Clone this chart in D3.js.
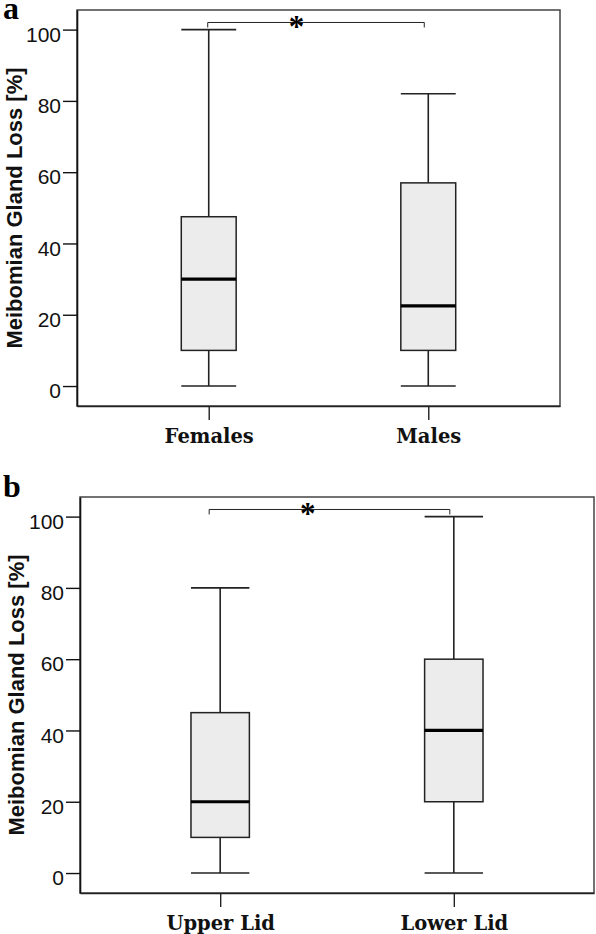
<!DOCTYPE html>
<html>
<head>
<meta charset="utf-8">
<script src="https://cdn.jsdelivr.net/npm/d3@7"></script>
<style>
  html, body { margin: 0; padding: 0; background: #fff; }
  svg { display: block; }
</style>
</head>
<body>
<svg id="chart" width="596" height="934"></svg>
<script>
// ---------- data ----------
const panelLabels = ["a", "b"];
const yTicks = [0, 20, 40, 60, 80, 100];
const yTitle = "Meibomian Gland Loss [%]";

const categoriesA = ["Females", "Males"];
const minA = [0, 0];
const q1A = [10, 10];
const medianA = [30, 22.5];
const q3A = [47.5, 57];
const maxA = [100, 82];

const categoriesB = ["Upper Lid", "Lower Lid"];
const minB = [0, 0];
const q1B = [10, 20];
const medianB = [20, 40];
const q3B = [45, 60];
const maxB = [80, 100];

const significance = ["*", "*"];

// ---------- layout ----------
const panels = [
  { label: panelLabels[0], cats: categoriesA, min: minA, q1: q1A, med: medianA, q3: q3A, max: maxA,
    left: 77, right: 560, top: 10, bottom: 406, labelY: 19, titleX: 14, sig: significance[0],
    brL: -1, brR: -4 },
  { label: panelLabels[1], cats: categoriesB, min: minB, q1: q1B, med: medianB, q3: q3B, max: maxB,
    left: 80, right: 594, top: 497, bottom: 893, labelY: 497, titleX: 16, sig: significance[1],
    brL: -11, brR: -4 }
];

const svg = d3.select("#chart");

panels.forEach(p => {
  const g = svg.append("g");
  const x = d3.scalePoint().domain(p.cats).range([p.left, p.right]).padding(0.6);
  const y = d3.scaleLinear().domain([-5.6, 105.5]).range([p.bottom, p.top]);
  const step = x.step();
  const boxW = step * 0.25;
  const capW = step * 0.125;

  // frame
  g.append("rect")
    .attr("x", p.left).attr("y", p.top)
    .attr("width", p.right - p.left).attr("height", p.bottom - p.top)
    .attr("fill", "none").attr("stroke", "#444").attr("stroke-width", 1.5);

  // y axis
  const ya = g.append("g")
    .attr("transform", `translate(${p.left},0)`)
    .call(d3.axisLeft(y).tickValues(yTicks).tickSize(14).tickPadding(2).tickSizeOuter(0));
  ya.select(".domain").attr("stroke", "#111").attr("stroke-width", 1.6);
  ya.selectAll(".tick line").attr("stroke", "#111").attr("stroke-width", 1.4);
  ya.selectAll(".tick text")
    .attr("font-family", "'Liberation Sans', Arial, sans-serif")
    .attr("font-size", 21).attr("fill", "#111").attr("dy", "0.55em");

  // x axis
  const xa = g.append("g")
    .attr("transform", `translate(0,${p.bottom})`)
    .call(d3.axisBottom(x).tickSize(14).tickSizeOuter(0));
  xa.select(".domain").attr("stroke", "#222").attr("stroke-width", 1.5);
  xa.selectAll(".tick line").attr("stroke", "#222").attr("stroke-width", 1.4);
  xa.selectAll(".tick text")
    .attr("font-family", "'DejaVu Serif', serif").attr("font-weight", "bold")
    .attr("font-size", 19.5).attr("fill", "#111")
    .attr("y", 37).attr("dy", 0);

  // y title
  g.append("text")
    .attr("transform", `translate(${p.titleX},${(p.top + p.bottom) / 2}) rotate(-90)`)
    .attr("text-anchor", "middle").attr("dy", "0.35em")
    .attr("font-family", "'Liberation Sans', Arial, sans-serif").attr("font-weight", "bold")
    .attr("font-size", 22).attr("fill", "#111")
    .text(yTitle);

  // panel label
  g.append("text")
    .attr("x", 3).attr("y", p.labelY)
    .attr("font-family", "'Liberation Serif', 'Times New Roman', serif").attr("font-weight", "bold")
    .attr("font-size", 32).attr("fill", "#000")
    .text(p.label);

  // boxes
  p.cats.forEach((c, i) => {
    const cx = x(c);
    const bg = g.append("g");
    // whiskers
    bg.append("line").attr("x1", cx).attr("x2", cx).attr("y1", y(p.q3[i])).attr("y2", y(p.max[i]))
      .attr("stroke", "#222").attr("stroke-width", 1.6);
    bg.append("line").attr("x1", cx).attr("x2", cx).attr("y1", y(p.q1[i])).attr("y2", y(p.min[i]))
      .attr("stroke", "#222").attr("stroke-width", 1.6);
    bg.append("line").attr("x1", cx - capW).attr("x2", cx + capW).attr("y1", y(p.max[i])).attr("y2", y(p.max[i]))
      .attr("stroke", "#222").attr("stroke-width", 1.6);
    bg.append("line").attr("x1", cx - capW).attr("x2", cx + capW).attr("y1", y(p.min[i])).attr("y2", y(p.min[i]))
      .attr("stroke", "#222").attr("stroke-width", 1.6);
    // box
    bg.append("rect")
      .attr("x", cx - boxW / 2).attr("width", boxW)
      .attr("y", y(p.q3[i])).attr("height", y(p.q1[i]) - y(p.q3[i]))
      .attr("fill", "#ececec").attr("stroke", "#222").attr("stroke-width", 1.5);
    // median
    bg.append("line").attr("x1", cx - boxW / 2).attr("x2", cx + boxW / 2)
      .attr("y1", y(p.med[i])).attr("y2", y(p.med[i]))
      .attr("stroke", "#000").attr("stroke-width", 3.2);
  });

  // significance bracket
  const bx1 = x(p.cats[0]) + p.brL;
  const bx2 = x(p.cats[1]) + p.brR;
  const by = y(102);
  const bt = y(100.6);
  g.append("path")
    .attr("d", `M${bx1},${bt}V${by}H${bx2}V${bt}`)
    .attr("fill", "none").attr("stroke", "#222").attr("stroke-width", 1);
  g.append("text")
    .attr("x", bx1 + (bx2 - bx1) * 0.41).attr("y", by + 15)
    .attr("text-anchor", "middle")
    .attr("font-family", "'Liberation Serif', 'Times New Roman', serif").attr("font-weight", "bold")
    .attr("font-size", 31).attr("fill", "#000")
    .text(p.sig);
});
</script>
</body>
</html>
